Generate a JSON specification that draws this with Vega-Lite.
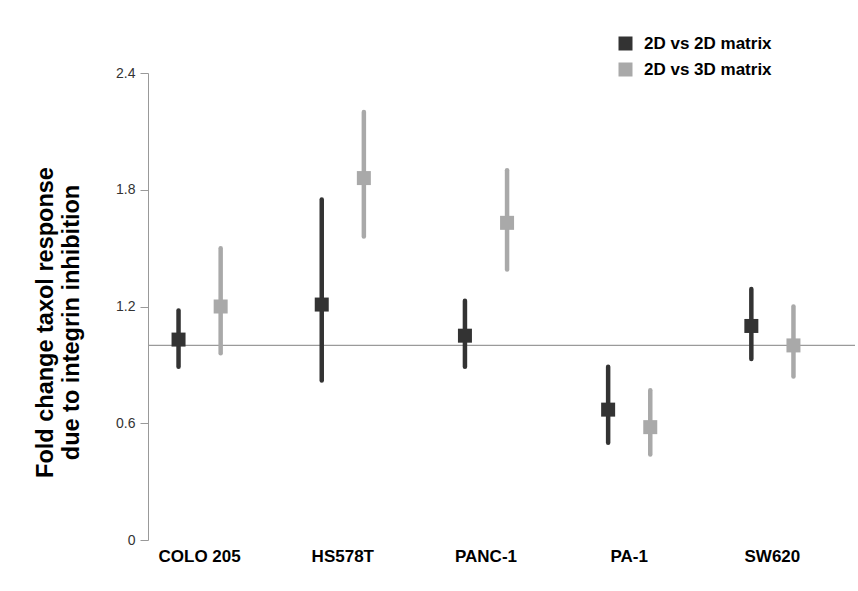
{
  "$schema": "https://vega.github.io/schema/vega-lite/v6.json",
  "autosize": "none",
  "width": 707,
  "height": 467,
  "padding": {"left": 148, "top": 73, "right": 3, "bottom": 51},
  "background": "white",
  "config": {
    "view": {"stroke": null},
    "font": "Liberation Sans"
  },
  "datasets": {
    "pts": [
      {"cell": "COLO 205", "series": "2D vs 2D matrix", "mean": 1.03, "lo": 0.89, "hi": 1.18},
      {"cell": "COLO 205", "series": "2D vs 3D matrix", "mean": 1.2, "lo": 0.96, "hi": 1.5},
      {"cell": "HS578T", "series": "2D vs 2D matrix", "mean": 1.21, "lo": 0.82, "hi": 1.75},
      {"cell": "HS578T", "series": "2D vs 3D matrix", "mean": 1.86, "lo": 1.56, "hi": 2.2},
      {"cell": "PANC-1", "series": "2D vs 2D matrix", "mean": 1.05, "lo": 0.89, "hi": 1.23},
      {"cell": "PANC-1", "series": "2D vs 3D matrix", "mean": 1.63, "lo": 1.39, "hi": 1.9},
      {"cell": "PA-1", "series": "2D vs 2D matrix", "mean": 0.67, "lo": 0.5, "hi": 0.89},
      {"cell": "PA-1", "series": "2D vs 3D matrix", "mean": 0.58, "lo": 0.44, "hi": 0.77},
      {"cell": "SW620", "series": "2D vs 2D matrix", "mean": 1.1, "lo": 0.93, "hi": 1.29},
      {"cell": "SW620", "series": "2D vs 3D matrix", "mean": 1.0, "lo": 0.84, "hi": 1.2}
    ],
    "ref": [{"ref": 1}]
  },
  "layer": [
    {
      "data": {"name": "ref"},
      "mark": {"type": "rule", "color": "#9a9a9a", "strokeWidth": 1.3},
      "encoding": {
        "y": {
          "field": "ref", "type": "quantitative",
          "scale": {"domain": [0, 2.4], "nice": false, "zero": true},
          "axis": {
            "values": [0, 0.6, 1.2, 1.8, 2.4],
            "format": ".1~f",
            "grid": false,
            "domainColor": "#999999",
            "tickColor": "#999999",
            "tickSize": 8,
            "labelColor": "#333333",
            "labelFontSize": 14,
            "labelPadding": 5,
            "title": ["Fold change taxol response", "due to integrin inhibition"],
            "titleFontSize": 23.5,
            "titleFontWeight": "bold",
            "titleColor": "#000000",
            "titleLineHeight": 26,
            "titleAngle": -90,
            "titleAlign": "center",
            "titleBaseline": "middle",
            "titleX": -103,
            "titleY": 249
          }
        }
      }
    },
    {
      "data": {"name": "pts"},
      "mark": {"type": "rule", "strokeWidth": 4.5, "strokeCap": "round"},
      "encoding": {
        "x": {
          "field": "cell", "type": "nominal",
          "sort": ["COLO 205", "HS578T", "PANC-1", "PA-1", "SW620"],
          "scale": {"range": [-20, 696], "paddingInner": 0, "paddingOuter": 0},
          "axis": {
            "title": null, "domain": false, "ticks": false, "labelAngle": 0,
            "labelFontSize": 17, "labelFontWeight": "bold", "labelColor": "#000000",
            "labelPadding": 8
          }
        },
        "xOffset": {
          "field": "series", "type": "nominal",
          "scale": {"paddingOuter": 0.7, "paddingInner": 0}
        },
        "y": {"field": "lo", "type": "quantitative"},
        "y2": {"field": "hi"},
        "color": {
          "field": "series", "type": "nominal",
          "scale": {"domain": ["2D vs 2D matrix", "2D vs 3D matrix"], "range": ["#333333", "#a9a9a9"]},
          "legend": {
            "title": null,
            "orient": "none",
            "legendX": 469,
            "legendY": -38,
            "symbolType": "square",
            "symbolSize": 196,
            "symbolStrokeWidth": 0,
            "symbolOpacity": 1,
            "labelFontSize": 17,
            "labelFontWeight": "bold",
            "labelColor": "#000000",
            "labelOffset": 10,
            "rowPadding": 8
          }
        }
      }
    },
    {
      "data": {"name": "pts"},
      "mark": {"type": "point", "shape": "square", "filled": true, "opacity": 1, "size": 196},
      "encoding": {
        "x": {"field": "cell", "type": "nominal", "sort": ["COLO 205", "HS578T", "PANC-1", "PA-1", "SW620"]},
        "xOffset": {"field": "series", "type": "nominal"},
        "y": {"field": "mean", "type": "quantitative"},
        "color": {"field": "series", "type": "nominal"}
      }
    }
  ]
}
